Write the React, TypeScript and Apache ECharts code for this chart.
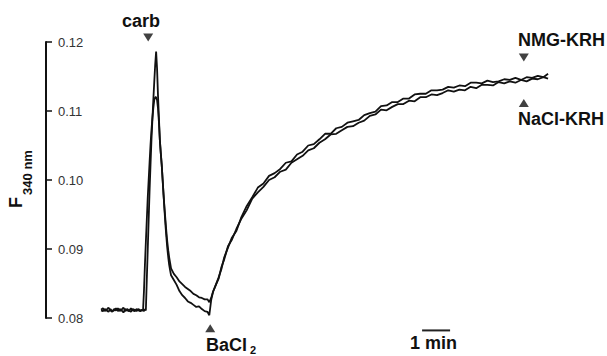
import React, { useEffect, useRef } from "react";
import * as echarts from "echarts";

// time in seconds from start of recording
const timeSec = [
  0, 4, 8, 12, 16, 20, 24, 28, 32, 36, 40, 44, 48, 52, 56, 60, 64, 68, 72, 76, 80, 84, 88,
  90, 92, 94, 96, 98, 100, 102, 104, 106, 108, 110, 112, 114, 116, 118, 120, 122, 124, 126, 128, 130, 132, 134, 136, 138, 140, 142, 144, 146, 148, 150,
  156, 162, 168, 174, 180, 186, 192, 198, 204, 210, 216, 222, 228, 232, 236, 240, 246,
  252, 258, 264, 272, 280, 290, 300, 312, 324, 336, 348, 360, 372, 384, 396, 408, 420, 432, 444, 456, 468, 480, 492, 504, 516, 528, 540, 552, 564, 576, 588, 600, 612, 624, 636, 648, 660, 672, 684, 696, 708, 720, 732, 744, 756, 768, 780, 792, 804, 816, 828, 840, 852, 864, 876, 888, 900, 912, 924, 936, 948, 958,
];

// F340 nm, NaCl-KRH trace
const fNaCl = [
  0.0811, 0.0810, 0.0813, 0.0811, 0.0809, 0.0813, 0.0810, 0.0811, 0.0814, 0.0810, 0.0813, 0.0811, 0.0808, 0.0813, 0.0811, 0.0810, 0.0814, 0.0811, 0.0810, 0.0813, 0.0811, 0.0810, 0.0811,
  0.0811, 0.0810, 0.0813, 0.0811, 0.0855, 0.0898, 0.0942, 0.0985, 0.1022, 0.1058, 0.1087, 0.1116, 0.1142, 0.1167, 0.1186, 0.1162, 0.1123, 0.1090, 0.1058, 0.1039, 0.1022, 0.1000, 0.0978, 0.0956, 0.0935, 0.0917, 0.0901, 0.0888, 0.0877, 0.0869, 0.0862,
  0.0855, 0.0848, 0.0839, 0.0833, 0.0829, 0.0824, 0.0822, 0.0819, 0.0816, 0.0817, 0.0813, 0.0810, 0.0809, 0.0804, 0.0826, 0.0838, 0.0848,
  0.0857, 0.0874, 0.0885, 0.0904, 0.0913, 0.0929, 0.0943, 0.0956, 0.0973, 0.0982,
  0.0990, 0.1000, 0.1004, 0.1012, 0.1015, 0.1025, 0.1030, 0.1035, 0.1043, 0.1046,
  0.1054, 0.1059, 0.1066, 0.1067, 0.1072, 0.1077, 0.1078, 0.1083, 0.1086, 0.1093,
  0.1095, 0.1102, 0.1101, 0.1106, 0.1110, 0.1110, 0.1115, 0.1114, 0.1120, 0.1120,
  0.1124, 0.1123, 0.1126, 0.1130, 0.1128, 0.1131, 0.1130, 0.1135, 0.1133, 0.1138,
  0.1138, 0.1137, 0.1142, 0.1140, 0.1143, 0.1141, 0.1145, 0.1143, 0.1147, 0.1146,
  0.1149, 0.1147,
];

// F340 nm, NMG-KRH trace
const fNMG = [
  0.0812, 0.0814, 0.0810, 0.0812, 0.0815, 0.0811, 0.0809, 0.0813, 0.0811, 0.0814, 0.0810, 0.0812, 0.0815, 0.0810, 0.0813, 0.0811, 0.0809, 0.0813, 0.0812, 0.0810, 0.0813, 0.0811, 0.0812,
  0.0811, 0.0840, 0.0877, 0.0910, 0.0942, 0.0974, 0.1000, 0.1026, 0.1051, 0.1072, 0.1090, 0.1104, 0.1116, 0.1120, 0.1120, 0.1116, 0.1104, 0.1084, 0.1058, 0.1039, 0.1022, 0.1000, 0.0978, 0.0959, 0.0942, 0.0925, 0.0910, 0.0898, 0.0888, 0.0880, 0.0872,
  0.0864, 0.0859, 0.0853, 0.0849, 0.0845, 0.0842, 0.0839, 0.0835, 0.0833, 0.0830, 0.0829, 0.0827, 0.0827, 0.0823, 0.0829, 0.0838, 0.0848,
  0.0859, 0.0871, 0.0888, 0.0902, 0.0916, 0.0926, 0.0945, 0.0962, 0.0975, 0.0989,
  0.0995, 0.1006, 0.1010, 0.1016, 0.1025, 0.1027, 0.1037, 0.1041, 0.1050, 0.1052,
  0.1059, 0.1067, 0.1067, 0.1075, 0.1077, 0.1083, 0.1085, 0.1087, 0.1094, 0.1097,
  0.1099, 0.1107, 0.1108, 0.1113, 0.1113, 0.1118, 0.1118, 0.1124, 0.1125, 0.1125,
  0.1130, 0.1130, 0.1131, 0.1135, 0.1134, 0.1137, 0.1136, 0.1141, 0.1141, 0.1140,
  0.1144, 0.1142, 0.1143, 0.1146, 0.1145, 0.1148, 0.1145, 0.1149, 0.1148, 0.1151,
  0.1149, 0.1154,
];

// event markers (arrowheads)
const markerTimes = [101, 234, 906, 906];
const markerValues = [0.12065, 0.07853, 0.11775, 0.11116];
const markerDown = [true, false, true, false];

// 1 min scale bar
const scaleBarStart = 688;
const scaleBarLength = 60;
const scaleBarValue = 0.0782;

const yTicks = { min: 0.08, max: 0.12, interval: 0.01 };
const timeRange = { min: -118, max: 960 };

const FONT = '"Liberation Sans", Arial, Helvetica, sans-serif';

export default function App() {
  const ref = useRef<HTMLDivElement>(null);
  useEffect(() => {
    if (!ref.current) return;
    const chart = echarts.init(ref.current, null, { renderer: "svg" });
    const txt = (
      text: string,
      x: number,
      y: number,
      size: number,
      align: string,
      rotation = 0
    ) => ({
      type: "text",
      x,
      y,
      rotation,
      silent: true,
      style: {
        text,
        font: `bold ${size}px ${FONT}`,
        fill: "#111",
        align,
        textAlign: align,
        verticalAlign: "middle",
        textVerticalAlign: "middle",
      },
    });
    chart.setOption({
      animation: false,
      backgroundColor: "#fff",
      grid: { left: 46, top: 42, width: 503, height: 276 },
      xAxis: { type: "value", min: timeRange.min, max: timeRange.max, show: false },
      yAxis: {
        type: "value",
        min: yTicks.min,
        max: yTicks.max,
        interval: yTicks.interval,
        position: "left",
        axisLine: { show: true, onZero: false, lineStyle: { color: "#111", width: 2 } },
        axisTick: { show: true, inside: true, length: 6, lineStyle: { color: "#111", width: 1.5 } },
        axisLabel: {
          inside: true,
          margin: 12,
          color: "#333",
          fontSize: 13,
          fontFamily: FONT,
          formatter: (v: number) => v.toFixed(2),
        },
        splitLine: { show: false },
      },
      series: [
        {
          name: "NaCl-KRH",
          type: "line",
          data: timeSec.map((t, i) => [t, fNaCl[i]]),
          showSymbol: false,
          symbol: "none",
          lineStyle: { color: "#111", width: 1.8 },
          clip: false,
        },
        {
          name: "NMG-KRH",
          type: "line",
          data: timeSec.map((t, i) => [t, fNMG[i]]),
          showSymbol: false,
          symbol: "none",
          lineStyle: { color: "#111", width: 1.8 },
          clip: false,
        },
        {
          name: "scale",
          type: "line",
          data: [
            [scaleBarStart, scaleBarValue],
            [scaleBarStart + scaleBarLength, scaleBarValue],
          ],
          symbol: "none",
          lineStyle: { color: "#222", width: 2 },
          clip: false,
        },
        {
          name: "markers",
          type: "scatter",
          clip: false,
          symbol: "triangle",
          symbolSize: [10, 8],
          itemStyle: { color: "#111" },
          data: markerTimes.map((t, i) => ({
            value: [t, markerValues[i]],
            symbolRotate: markerDown[i] ? 180 : 0,
          })),
        },
      ],
      graphic: [
        txt("carb", 141, 21, 18, "center"),
        txt("BaCl", 206, 345, 18, "left"),
        txt("2", 250, 350, 11, "left"),
        txt("NMG-KRH", 518, 40, 18, "left"),
        txt("NaCl-KRH", 518, 118.5, 18, "left"),
        txt("1 min", 410, 343, 18, "left"),
        txt("F", 15.5, 202.5, 18, "center", Math.PI / 2),
        txt("340 nm", 27.5, 172.5, 13, "center", Math.PI / 2),
      ],
    });
    return () => chart.dispose();
  }, []);
  return (
    <div
      ref={ref}
      style={{ position: "absolute", left: 0, top: 0, width: 607, height: 356, background: "#fff" }}
    />
  );
}
